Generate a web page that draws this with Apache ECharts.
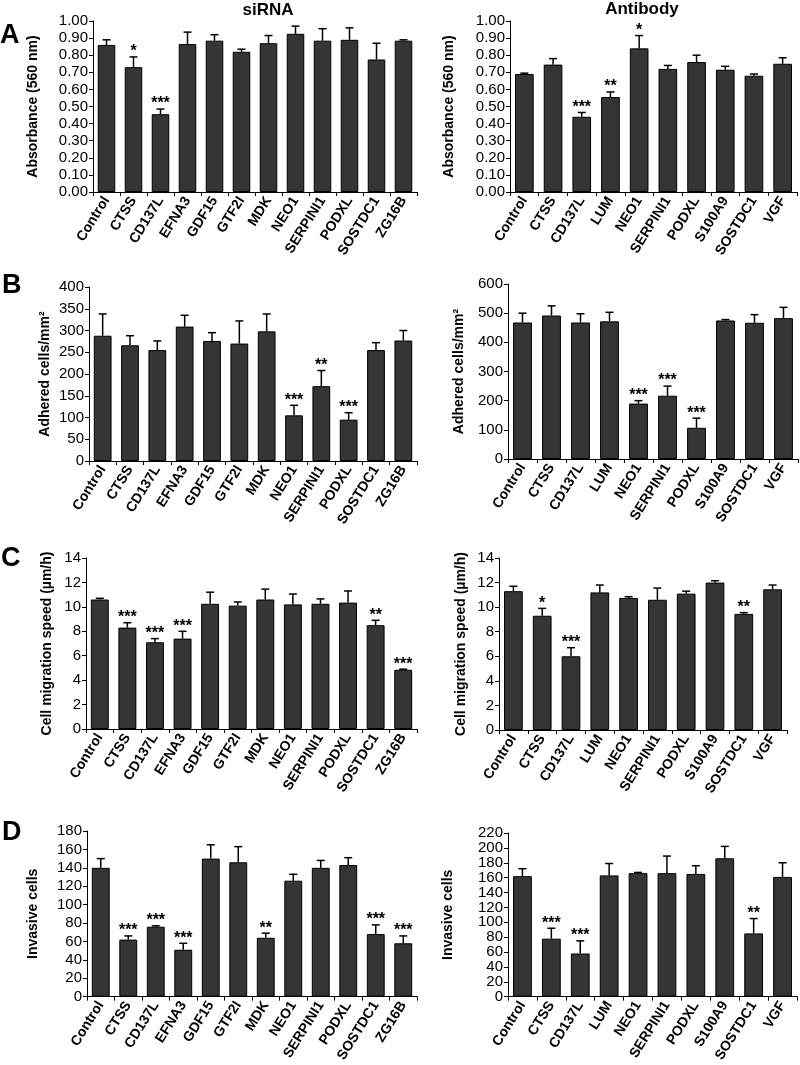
<!DOCTYPE html>
<html>
<head>
<meta charset="utf-8">
<script src="https://cdn.jsdelivr.net/npm/echarts@6/dist/echarts.min.js"></script>
<style>
html,body{margin:0;padding:0;background:#fff;}
#main{width:800px;height:1065px;}
</style>
</head>
<body>
<div id="main"></div>
<script>
// ---------- categories ----------
const siCats = ['Control','CTSS','CD137L','EFNA3','GDF15','GTF2I','MDK','NEO1','SERPINI1','PODXL','SOSTDC1','ZG16B'];
const abCats = ['Control','CTSS','CD137L','LUM','NEO1','SERPINI1','PODXL','S100A9','SOSTDC1','VGF'];

// ---------- A: Absorbance ----------
const aSiMean = [0.86,0.73,0.455,0.865,0.885,0.82,0.87,0.925,0.885,0.89,0.775,0.885];
const aSiErr  = [0.03,0.06,0.03,0.07,0.035,0.015,0.045,0.045,0.07,0.07,0.095,0.005];
const aSiSig  = ['','*','***','','','','','','','','',''];
const aAbMean = [0.69,0.745,0.44,0.555,0.84,0.72,0.76,0.715,0.68,0.75];
const aAbErr  = [0.005,0.035,0.025,0.03,0.075,0.02,0.04,0.02,0.01,0.035];
const aAbSig  = ['','','***','**','*','','','','',''];

// ---------- B: Adhered cells ----------
const bSiMean = [288,266,255,309,276,270,298,105,172,95,255,277];
const bSiErr  = [50,22,21,26,19,52,40,23,36,16,17,23];
const bSiSig  = ['','','','','','','','***','**','***','',''];
const bAbMean = [468,492,468,472,190,217,107,475,467,483];
const bAbErr  = [32,33,30,31,10,33,33,3,28,37];
const bAbSig  = ['','','','','***','***','***','','',''];

// ---------- C: Migration speed ----------
const cSiMean = [10.6,8.3,7.1,7.4,10.25,10.1,10.6,10.2,10.25,10.35,8.5,4.85];
const cSiErr  = [0.1,0.4,0.3,0.6,0.95,0.3,0.85,0.85,0.4,0.95,0.4,0.05];
const cSiSig  = ['','***','***','***','','','','','','','**','***'];
const cAbMean = [11.3,9.3,6.0,11.2,10.75,10.6,11.1,12.0,9.45,11.45];
const cAbErr  = [0.4,0.6,0.7,0.6,0.1,0.95,0.2,0.15,0.1,0.35];
const cAbSig  = ['','*','***','','','','','','**',''];

// ---------- D: Invasive cells ----------
const dSiMean = [140,62,76,51,150,146,64,126,140,143,68,58];
const dSiErr  = [10,4,1,7,15,17,5,7,8,8,10,8];
const dSiSig  = ['','***','***','***','','','**','','','','***','***'];
const dAbMean = [162,78,58,163,166,166,165,186,85,161];
const dAbErr  = [10,14,17,16,1,23,11,16,20,19];
const dAbSig  = ['','***','***','','','','','','**',''];

// ---------- axis titles ----------
const yTitles = ['Absorbance (560 nm)','Adhered cells/mm\u00B2','Cell migration speed (\u00B5m/h)','Invasive cells'];

const FONT = '"Liberation Sans", Arial, sans-serif';

const panels = [
  {cats: siCats, mean: aSiMean, err: aSiErr, sig: aSiSig, max: 1, interval: 0.1, dec: 2, title: yTitles[0],
   grid: {left: 93, top: 21, width: 324, height: 171}, gap: 53},
  {cats: abCats, mean: aAbMean, err: aAbErr, sig: aAbSig, max: 1, interval: 0.1, dec: 2, title: yTitles[0],
   grid: {left: 510, top: 21, width: 287, height: 171}, gap: 54},
  {cats: siCats, mean: bSiMean, err: bSiErr, sig: bSiSig, max: 400, interval: 50, dec: 0, title: yTitles[1],
   grid: {left: 89, top: 287, width: 328, height: 174}, gap: 37},
  {cats: abCats, mean: bAbMean, err: bAbErr, sig: bAbSig, max: 600, interval: 100, dec: 0, title: yTitles[1],
   grid: {left: 508, top: 284, width: 290, height: 175}, gap: 42},
  {cats: siCats, mean: cSiMean, err: cSiErr, sig: cSiSig, max: 14, interval: 2, dec: 0, title: yTitles[2],
   grid: {left: 86, top: 558, width: 331, height: 171}, gap: 32},
  {cats: abCats, mean: cAbMean, err: cAbErr, sig: cAbSig, max: 14, interval: 2, dec: 0, title: yTitles[2],
   grid: {left: 499, top: 558, width: 288, height: 172}, gap: 31},
  {cats: siCats, mean: dSiMean, err: dSiErr, sig: dSiSig, max: 180, interval: 20, dec: 0, title: yTitles[3],
   grid: {left: 87, top: 831, width: 330, height: 173}, gap: 47},
  {cats: abCats, mean: dAbMean, err: dAbErr, sig: dAbSig, max: 220, interval: 20, dec: 0, title: yTitles[3],
   grid: {left: 508, top: 833, width: 289, height: 170}, gap: 53}
];

const grids = [], xAxes = [], yAxes = [], series = [];
panels.forEach((p, k) => {
  grids.push(Object.assign({containLabel: false}, p.grid));
  xAxes.push({
    type: 'category', gridIndex: k, data: p.cats,
    axisLine: {lineStyle: {color: '#000', width: 1}},
    axisTick: {show: true, length: 4, lineStyle: {color: '#000'}},
    axisLabel: {rotate: 58, interval: 0, margin: 6, color: '#000', fontFamily: FONT, fontWeight: 'bold', fontSize: 14}
  });
  yAxes.push({
    type: 'value', gridIndex: k, min: 0, max: p.max, interval: p.interval,
    name: p.title, nameLocation: 'middle', nameRotate: 90, nameGap: p.gap,
    nameTextStyle: {color: '#000', fontFamily: FONT, fontWeight: 'bold', fontSize: 14},
    axisLine: {show: true, lineStyle: {color: '#000', width: 1}},
    axisTick: {show: true, length: 4, lineStyle: {color: '#000'}},
    splitLine: {show: false},
    axisLabel: {color: '#000', fontFamily: FONT, fontSize: 15, margin: 5,
      formatter: v => v.toFixed(p.dec)}
  });
  series.push({
    type: 'bar', xAxisIndex: k, yAxisIndex: k, data: p.mean,
    barCategoryGap: '35%',
    itemStyle: {color: '#353535', borderColor: '#000', borderWidth: 1},
    silent: true, animation: false
  });
  const sig = p.sig;
  series.push({
    type: 'custom', xAxisIndex: k, yAxisIndex: k,
    data: p.mean.map((m, i) => [i, m, p.err[i]]),
    animation: false, silent: true, z: 5,
    renderItem: (params, api) => {
      const i = api.value(0), m = api.value(1), e = api.value(2);
      const b = api.coord([i, m]);
      const t = api.coord([i, m + e]);
      const children = [
        {type: 'line', shape: {x1: b[0], y1: b[1], x2: t[0], y2: t[1]}, style: {stroke: '#000', lineWidth: 1.5}},
        {type: 'line', shape: {x1: t[0] - 4, y1: t[1], x2: t[0] + 4, y2: t[1]}, style: {stroke: '#000', lineWidth: 1.5}}
      ];
      const s = sig[params.dataIndex];
      if (s) {
        children.push({type: 'text', x: t[0], y: t[1] + 3,
          style: {text: s, fill: '#000', font: 'bold 16px ' + FONT, align: 'center', verticalAlign: 'bottom'}});
      }
      return {type: 'group', children};
    }
  });
});

const titles = [
  {text: 'siRNA', left: 268, top: 2, textAlign: 'center', textStyle: {fontSize: 17, fontWeight: 'bold', color: '#000', fontFamily: FONT}},
  {text: 'Antibody', left: 642, top: 1, textAlign: 'center', textStyle: {fontSize: 17, fontWeight: 'bold', color: '#000', fontFamily: FONT}},
  {text: 'A', left: 0, top: 22, textStyle: {fontSize: 27, fontWeight: 'bold', color: '#000', fontFamily: FONT}},
  {text: 'B', left: 2, top: 272, textStyle: {fontSize: 27, fontWeight: 'bold', color: '#000', fontFamily: FONT}},
  {text: 'C', left: 1, top: 545, textStyle: {fontSize: 27, fontWeight: 'bold', color: '#000', fontFamily: FONT}},
  {text: 'D', left: 2, top: 819, textStyle: {fontSize: 27, fontWeight: 'bold', color: '#000', fontFamily: FONT}}
].map(t => Object.assign({padding: 0}, t));

const chart = echarts.init(document.getElementById('main'), null, {renderer: 'canvas'});
chart.setOption({
  backgroundColor: '#fff',
  animation: false,
  title: titles,
  grid: grids,
  xAxis: xAxes,
  yAxis: yAxes,
  series: series
});
</script>
</body>
</html>
